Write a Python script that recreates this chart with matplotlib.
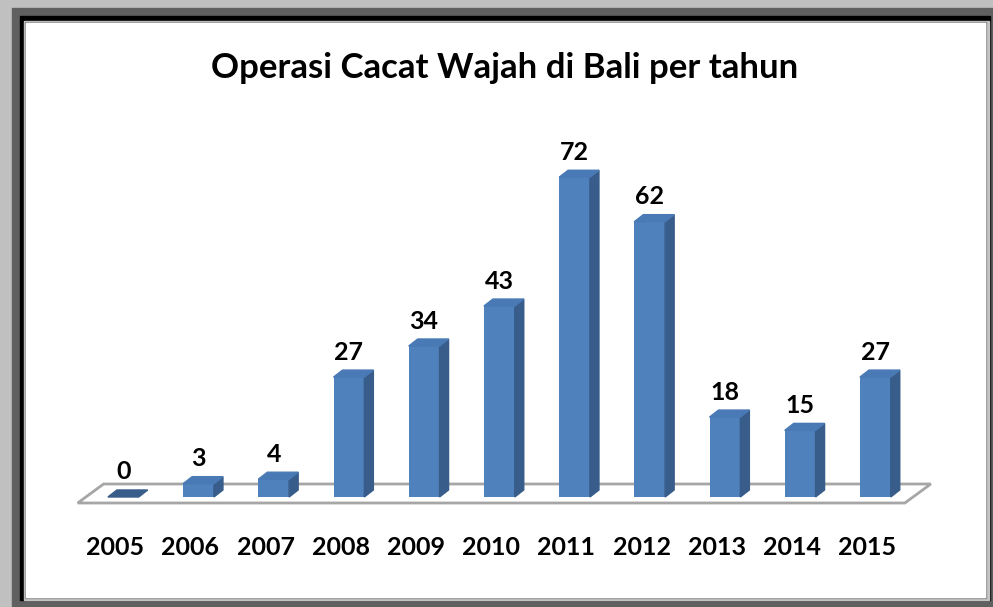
import matplotlib
matplotlib.use('Agg')
import matplotlib.pyplot as plt
from matplotlib.patches import Rectangle, Polygon

years = ['2005', '2006', '2007', '2008', '2009', '2010', '2011', '2012', '2013', '2014', '2015']
counts = [0, 3, 4, 27, 34, 43, 72, 62, 18, 15, 27]
title = 'Operasi Cacat Wajah di Bali per tahun'

plt.rcParams['font.family'] = ['Lato', 'DejaVu Sans']

W, H = 993, 607
fig = plt.figure(figsize=(W / 100, H / 100), dpi=100, facecolor='#c0c0c0')


# frame, in pixels from top-left
def frame_rect(x0, y0, x1, y1, color):
    fig.patches.append(Rectangle((x0 / W, 1 - y1 / H), (x1 - x0) / W, (y1 - y0) / H,
                                 transform=fig.transFigure, color=color, zorder=0))


frame_rect(12, 8, W, H, '#606060')
frame_rect(20, 16, 990, 600, '#000000')
frame_rect(24, 21, 989, 600, '#c4c4c4')
frame_rect(25, 22, 986, 598, '#8c8c8c')
frame_rect(26, 23, 985, 597, '#ffffff')

ax = fig.add_axes([60 / W, 1 - 520 / H, 900 / W, 420 / H])
ax.set_zorder(5)
ax.set_xlim(-0.735, 11.233)
ax.set_ylim(-5.18, 89.4)
ax.axis('off')
ax.patch.set_visible(False)

front_c, side_c, top_c = '#4f81bd', '#385d8a', '#4a7ab5'
n = len(counts)
w = 0.41        # front face width (data units)
shift = 0.107   # bars sit a bit right of the category centre
dx, dy = 0.12, 1.58   # depth offset

# floor
f0, f1, fdx = -1.35, 2.93, 0.345
ax.add_patch(Polygon([(-0.5, f0), (-0.5 + fdx, f1), (n - 0.5 + fdx, f1), (n - 0.5, f0)],
                     closed=True, facecolor='white', edgecolor='#a6a6a6', lw=2, zorder=1))

for i, v in enumerate(counts):
    c = i + shift
    x0, x1 = c - w / 2, c + w / 2
    if v > 0:
        ax.bar(c, v, width=w, color=front_c, zorder=3)
        ax.add_patch(Polygon([(x1, 0), (x1 + dx, dy), (x1 + dx, v + dy), (x1, v)],
                             closed=True, color=side_c, zorder=3))
        ax.add_patch(Polygon([(x0, v), (x0 + dx, v + dy), (x1 + dx, v + dy), (x1, v)],
                             closed=True, color=top_c, zorder=3))
    else:
        ax.add_patch(Polygon([(x0, v), (x0 + dx, v + dy), (x1 + dx, v + dy), (x1, v)],
                             closed=True, color=side_c, zorder=3))
    ax.annotate(str(v), (c, v), xytext=(0, 18), textcoords='offset points',
                ha='center', va='center', fontsize=18, fontweight='bold', color='black')

for i, y in enumerate(years):
    ax.annotate(y, (i, 0), xycoords=('data', 'axes fraction'), xytext=(0, -20),
                textcoords='offset points', ha='center', va='center',
                fontsize=18, fontweight='bold', color='black', annotation_clip=False)

fig.text(505 / W, 1 - 68 / H, title, ha='center', va='center', fontsize=25, fontweight='bold')

fig.savefig('out.png', dpi=100, facecolor=fig.get_facecolor())
